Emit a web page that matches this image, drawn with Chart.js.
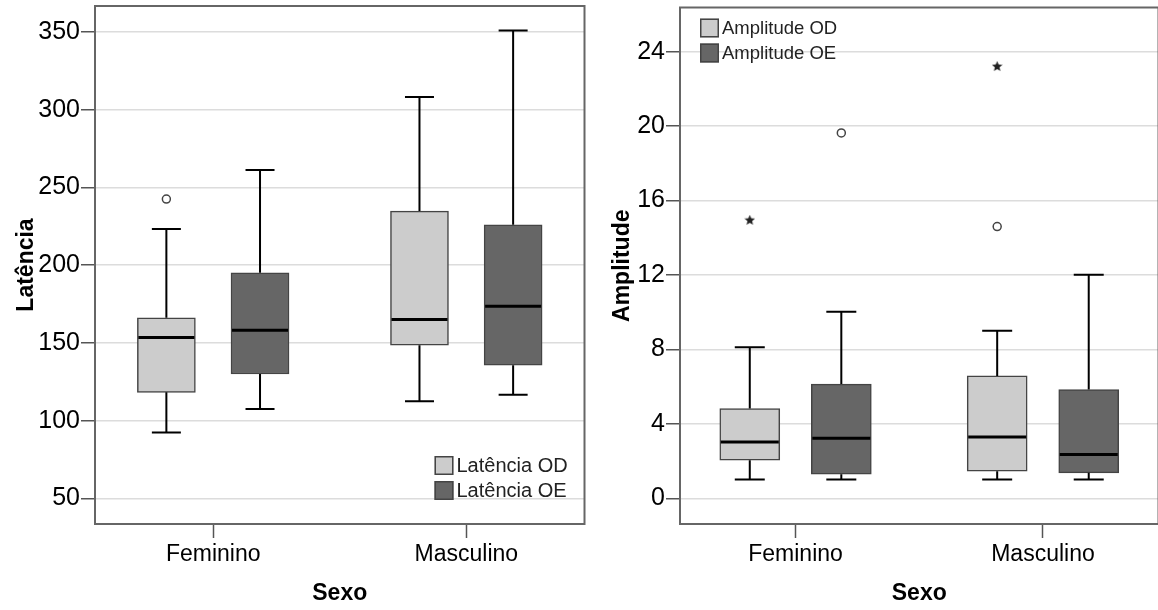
<!DOCTYPE html>
<html>
<head>
<meta charset="utf-8">
<script src="https://cdn.jsdelivr.net/npm/chart.js@4/dist/chart.umd.min.js"></script>
<style>
  html, body { margin: 0; padding: 0; background: #fff; overflow: hidden; }
  .panel { position: absolute; top: 0; height: 610px; }
  #left { left: 0; width: 590px; }
  #right { left: 590px; width: 576px; }
</style>
</head>
<body>
<div class="panel" id="left"><canvas id="latencia"></canvas></div>
<div class="panel" id="right"><canvas id="amplitude"></canvas></div>
<script>
// categories and tick labels
const sexo = ['Feminino', 'Masculino'];
const latenciaTicks = [50, 100, 150, 200, 250, 300, 350];
const amplitudeTicks = [0, 4, 8, 12, 16, 20, 24];

// five-number summaries [min, Q1, median, Q3, max], one per sexo
const latenciaOD = [[92.3, 118.2, 153.4, 166.1, 223.3], [112.5, 148.5, 165.0, 234.8, 308.2]];
const latenciaOE = [[107.5, 130.0, 158.2, 195.1, 261.2], [116.6, 135.6, 173.6, 226.0, 351.0]];
const amplitudeOD = [[1.02, 2.05, 3.03, 4.83, 8.12], [1.02, 1.46, 3.30, 6.58, 9.01]];
const amplitudeOE = [[1.02, 1.30, 3.23, 6.14, 10.03], [1.02, 1.37, 2.36, 5.85, 12.01]];

// outliers as [sexo index, value]; "extremos" are drawn as stars
const latenciaODOut = [[0, 242.5]];
const amplitudeODOut = [[1, 14.6]];
const amplitudeODExt = [[0, 14.94], [1, 23.2]];
const amplitudeOEOut = [[0, 19.63]];

const LIGHT = '#cccccc';
const DARK = '#666666';
const SHIFT = 0.185; // box offset from the category centre, in x units

Chart.defaults.font.family = '"Liberation Sans", Arial, sans-serif';
Chart.defaults.color = '#000';

function starImage(size, color) {
  const c = document.createElement('canvas');
  c.width = c.height = size;
  const g = c.getContext('2d');
  const r = size / 2, ri = r * 0.45;
  g.beginPath();
  for (let k = 0; k < 10; k++) {
    const rad = k % 2 ? ri : r;
    const a = -Math.PI / 2 + k * Math.PI / 5;
    g.lineTo(r + rad * Math.cos(a), r + rad * Math.sin(a));
  }
  g.closePath();
  g.fillStyle = color;
  g.fill();
  return c;
}
const star = starImage(11, '#222');

// whiskers, medians, frame and the in-plot legend
const boxPlugin = {
  id: 'boxExtras',
  afterDatasetsDraw(chart) {
    const { ctx } = chart;
    const y = chart.scales.y;
    chart.data.datasets.forEach((ds, di) => {
      if (!ds.stats) return;
      chart.getDatasetMeta(di).data.forEach((bar, i) => {
        const [min, , med, , max] = ds.stats[i];
        const { x, width } = bar;
        const top = Math.min(bar.y, bar.base), bottom = Math.max(bar.y, bar.base);
        const cap = width / 4;
        const yMax = y.getPixelForValue(max), yMin = y.getPixelForValue(min);
        ctx.save();
        ctx.strokeStyle = '#000';
        ctx.lineWidth = 2;
        ctx.beginPath();
        ctx.moveTo(x, top); ctx.lineTo(x, yMax);
        ctx.moveTo(x - cap, yMax); ctx.lineTo(x + cap, yMax);
        ctx.moveTo(x, bottom); ctx.lineTo(x, yMin);
        ctx.moveTo(x - cap, yMin); ctx.lineTo(x + cap, yMin);
        ctx.stroke();
        const yMed = y.getPixelForValue(med);
        ctx.lineWidth = 3;
        ctx.beginPath();
        ctx.moveTo(x - width / 2 + 1, yMed); ctx.lineTo(x + width / 2 - 1, yMed);
        ctx.stroke();
        ctx.restore();
      });
    });
  },
  afterDraw(chart, args, opts) {
    const { ctx, chartArea: a } = chart;
    ctx.save();
    ctx.strokeStyle = '#666';
    ctx.lineWidth = 2;
    ctx.strokeRect(a.left, a.top, a.right - a.left, a.bottom - a.top);

    const boxes = chart.data.datasets.filter(d => d.stats);
    const sw = 19, row = 25;
    const x0 = opts.corner === 'topLeft' ? a.left + opts.dx : a.right - opts.dx;
    const y0 = opts.corner === 'topLeft' ? a.top + opts.dy : a.bottom - opts.dy - sw - row * (boxes.length - 1);
    ctx.font = opts.fontSize + 'px "Liberation Sans", Arial, sans-serif';
    ctx.textBaseline = 'middle';
    boxes.forEach((ds, k) => {
      const yy = y0 + k * row;
      ctx.fillStyle = ds.backgroundColor;
      ctx.fillRect(x0, yy, sw, sw);
      ctx.strokeStyle = '#444';
      ctx.lineWidth = 1.5;
      ctx.strokeRect(x0 + 0.75, yy + 0.75, sw - 1.5, sw - 1.5);
      ctx.fillStyle = '#222';
      ctx.fillText(ds.label, x0 + sw + 3, yy + sw / 2 + 1);
    });
    ctx.restore();
  }
};

function boxSet(label, stats, color, side) {
  return {
    type: 'bar',
    label,
    stats,
    data: stats.map((s, i) => ({ x: i + 1 + side * SHIFT, y: [s[1], s[3]] })),
    backgroundColor: color,
    borderColor: '#444',
    borderWidth: 1.5,
    borderSkipped: false,
    grouped: false,
  };
}

function outlierSet(points, side, style) {
  return {
    type: 'scatter',
    label: '',
    data: points.map(([i, v]) => ({ x: i + 1 + side * SHIFT, y: v })),
    pointStyle: style,
    pointRadius: style === 'circle' ? 4 : 6,
    pointBackgroundColor: '#fff',
    pointBorderColor: '#444',
    pointBorderWidth: 1.5,
  };
}

function createBoxChart(canvas, c) {
  return new Chart(canvas, {
    type: 'bar',
    data: { datasets: c.datasets },
    options: {
      responsive: true,
      maintainAspectRatio: false,
      animation: false,
      devicePixelRatio: 1,
      events: [],
      barThickness: c.barThickness,
      layout: { padding: { top: 6, right: c.padRight, bottom: 0, left: 0 } },
      plugins: {
        legend: { display: false },
        tooltip: { enabled: false },
        boxExtras: c.legend,
      },
      scales: {
        x: {
          type: 'linear',
          min: 0.533,
          max: 2.467,
          offset: false,
          afterBuildTicks: (s) => { s.ticks = sexo.map((_, i) => ({ value: i + 1 })); },
          afterFit: (s) => { s.height = 86; s.paddingLeft = 0; s.paddingRight = 0; },
          ticks: {
            callback: (v) => sexo[v - 1],
            autoSkip: false,
            maxRotation: 0,
            padding: 3,
            color: '#000',
            font: { size: 23 },
          },
          grid: { offset: false, drawOnChartArea: false, drawTicks: true, tickLength: 14, tickColor: '#555', tickWidth: 1.5 },
          border: { display: false },
          title: { display: true, text: 'Sexo', color: '#000', font: { size: 23, weight: 'bold' }, padding: { top: 0, bottom: 3 } },
        },
        y: {
          min: c.yMin,
          max: c.yMax,
          afterBuildTicks: (s) => { s.ticks = c.yTicks.map(v => ({ value: v })); },
          afterFit: (s) => { s.width = c.yWidth; s.paddingTop = 0; s.paddingBottom = 0; },
          ticks: { padding: 1, color: '#000', font: { size: 25 } },
          grid: { color: '#dcdcdc', lineWidth: 1.5, tickLength: 14, tickColor: '#555', tickWidth: 1.5 },
          border: { display: false },
          title: { display: true, text: c.yTitle, color: '#000', font: { size: 23, weight: 'bold' }, padding: { top: c.titlePad, bottom: 0 } },
        },
      },
    },
    plugins: [boxPlugin],
  });
}

createBoxChart(document.getElementById('latencia'), {
  datasets: [
    boxSet('Latência OD', latenciaOD, LIGHT, -1),
    boxSet('Latência OE', latenciaOE, DARK, 1),
    outlierSet(latenciaODOut, -1, 'circle'),
  ],
  barThickness: 58,
  padRight: 5,
  yMin: 33.5,
  yMax: 366.7,
  yTicks: latenciaTicks,
  yWidth: 95,
  yTitle: 'Latência',
  titlePad: 13,
  legend: { corner: 'bottomRight', dx: 150, dy: 24, fontSize: 20 },
});

createBoxChart(document.getElementById('amplitude'), {
  datasets: [
    boxSet('Amplitude OD', amplitudeOD, LIGHT, -1),
    boxSet('Amplitude OE', amplitudeOE, DARK, 1),
    outlierSet(amplitudeODOut, -1, 'circle'),
    outlierSet(amplitudeODExt, -1, star),
    outlierSet(amplitudeOEOut, 1, 'circle'),
  ],
  barThickness: 60,
  padRight: 4,
  yMin: -1.377,
  yMax: 26.37,
  yTicks: amplitudeTicks,
  yWidth: 90,
  yTitle: 'Amplitude',
  titlePad: 19,
  legend: { corner: 'topLeft', dx: 20, dy: 11, fontSize: 18.5 },
});
</script>
</body>
</html>
